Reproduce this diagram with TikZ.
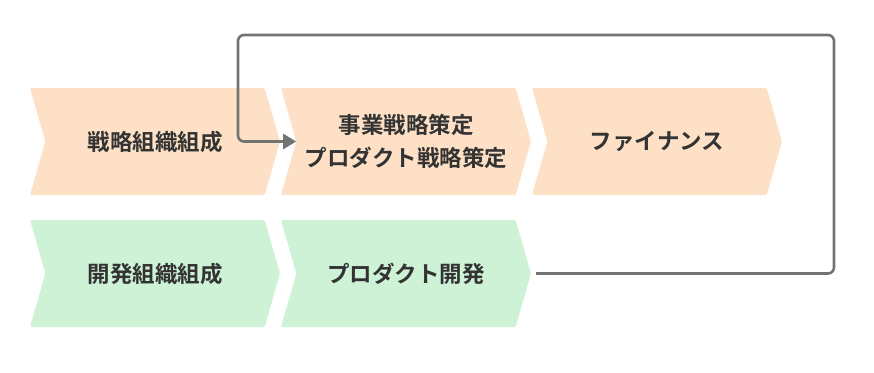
\documentclass[tikz,border=0pt]{standalone}
\usepackage{fontspec}
\newfontfamily\jpfont{Noto Sans CJK JP}[BoldFont={Noto Sans CJK JP Bold}]
\usepackage{xcolor}
\usepackage{tikz}
\usetikzlibrary{shapes.symbols, arrows.meta, positioning, calc}

\definecolor{peach}{HTML}{FDE0C5}
\definecolor{mint}{HTML}{CDF2D5}
\definecolor{inkgray}{HTML}{333333}
\definecolor{loopgray}{HTML}{737373}

\begin{document}
\begin{tikzpicture}[
    x=1pt, y=-1pt,
    font=\jpfont\bfseries\fontsize{22.5}{33}\selectfont,
    stage/.style={signal, signal to=east, signal from=west, signal pointer angle=148, minimum width=250pt, minimum height=107pt, inner sep=0pt, align=center, text=inkgray, rounded corners=1.5pt},
    bizstage/.style={stage, fill=peach},
    devstage/.style={stage, fill=mint},
    loopflow/.style={-{Triangle[length=13pt, width=15pt]}, draw=loopgray, line width=2.6pt, rounded corners=6pt}
]
\useasboundingbox (0,0) rectangle (874,372);

% Business row
\node[bizstage] (orgstrat) at (155, 141.5) {戦略組織組成};
\node[bizstage] (bizstrat) at (406, 141.5) {事業戦略策定\\プロダクト戦略策定};
\node[bizstage] (finance) at (657, 141.5) {ファイナンス};

% Development row
\node[devstage] (orgdev) at (155, 273.5) {開発組織組成};
\node[devstage] (proddev) at (406, 273.5) {プロダクト開発};

% Feedback loop
\coordinate (loopright) at (834, 35);
\coordinate (loopleft) at (238, 35);
\draw[loopflow, shorten <=5pt] (proddev.east) -| (loopright) -- (loopleft) |- (bizstrat.west);

\end{tikzpicture}
\end{document}
